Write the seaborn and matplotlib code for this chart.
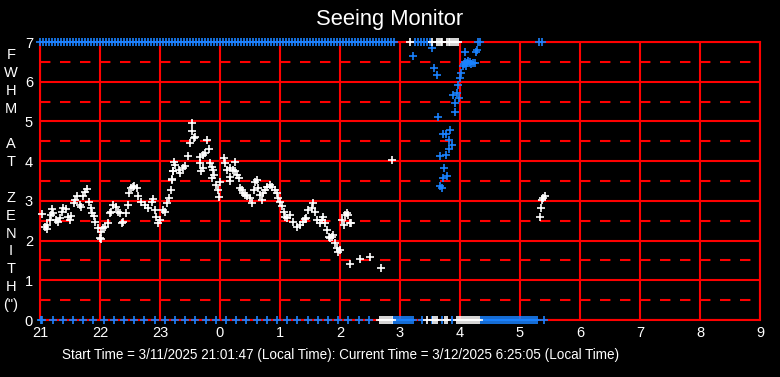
import numpy as np
import pandas as pd
import matplotlib
matplotlib.use("Agg")
import matplotlib.pyplot as plt
import seaborn as sns

# hours are continuous from 21:00 on the start day (24.5 = 00:30 next day)
tick_hours = list(range(21, 34))
tick_labels = ["21", "22", "23", "0", "1", "2", "3", "4", "5", "6", "7", "8", "9"]

# white series: FWHM readings
white_time = [
    21.03, 21.09, 21.12, 21.11, 21.16, 21.18, 21.20, 21.22, 21.27, 21.30, 21.33,
    21.36, 21.38, 21.44, 21.47, 21.50, 21.52, 21.57, 21.59, 21.62, 21.66, 21.69,
    21.72, 21.75, 21.79, 21.81, 21.85, 21.87, 21.90, 21.92, 21.96, 22.00, 22.01,
    22.02, 22.05, 22.08, 22.13, 22.16, 22.18, 22.22, 22.27, 22.30, 22.33, 22.36,
    22.38, 22.44, 22.46, 22.48, 22.52, 22.55, 22.57, 22.61, 22.63, 22.69, 22.75,
    22.80, 22.86, 22.88, 22.91, 22.94, 22.97, 23.00, 23.05, 23.08, 23.11, 23.15,
    23.18, 23.20, 23.22, 23.23, 23.25, 23.21, 23.20, 23.31, 23.33, 23.39, 23.42,
    23.46, 23.50, 23.53, 23.54, 23.58, 23.56, 23.66, 23.72, 23.75, 23.78, 23.81,
    23.67, 23.69, 23.72, 23.83, 23.86, 23.89, 23.90, 23.86, 24.00, 23.94, 23.97,
    23.99, 24.06, 24.08, 24.25, 24.11, 24.17, 24.22, 24.25, 24.28, 24.31, 24.17,
    24.16, 24.33, 24.36, 24.39, 24.42, 24.45, 24.50, 24.53, 24.56, 24.58, 24.61,
    24.64, 24.67, 24.70, 24.72, 24.75, 24.78, 24.83, 24.86, 24.92, 24.95, 24.97,
    25.00, 25.03, 25.06, 25.08, 25.11, 25.17, 25.22, 25.28, 25.33, 25.39, 25.42,
    25.44, 25.47, 25.53, 25.55, 25.58, 25.61, 25.66, 25.70, 25.71, 25.75, 25.78,
    25.81, 25.83, 25.86, 25.89, 25.92, 25.95, 25.97, 26.00, 26.03, 26.06, 26.08,
    26.11, 26.14, 26.17, 26.19, 26.17, 26.33, 26.50, 26.69, 26.86,
    29.33, 29.35, 29.36, 29.39, 29.42,
]
white_fwhm = [
    2.67, 2.35, 2.39, 2.28, 2.52, 2.64, 2.79, 2.69, 2.52, 2.48, 2.56,
    2.73, 2.81, 2.79, 2.60, 2.52, 2.62, 2.95, 3.02, 3.11, 2.90, 2.85,
    3.12, 3.23, 3.31, 2.98, 2.81, 2.70, 2.62, 2.48, 2.31, 2.06, 2.04,
    2.22, 2.31, 2.35, 2.44, 2.69, 2.73, 2.90, 2.85, 2.73, 2.69, 2.44,
    2.48, 2.69, 2.90, 3.19, 3.32, 3.36, 3.38, 3.32, 3.11, 2.98, 2.90,
    2.81, 2.98, 3.04, 2.77, 2.60, 2.44, 2.52, 2.77, 2.73, 2.94, 3.06,
    3.27, 3.53, 3.74, 3.99, 3.90, 3.74, 3.55, 3.78, 3.70, 3.82, 3.88,
    4.13, 4.45, 4.95, 4.77, 4.62, 4.58, 4.11, 4.16, 4.20, 4.53, 4.30,
    3.95, 3.74, 3.82, 3.95, 3.85, 3.78, 3.65, 3.57, 3.48, 3.40, 3.27,
    3.09, 4.07, 3.95, 3.99, 3.78, 3.82, 3.78, 3.74, 3.65, 3.57, 3.61,
    3.51, 3.32, 3.27, 3.19, 3.15, 3.11, 3.07, 2.94, 3.27, 3.48, 3.53,
    3.32, 3.15, 3.02, 3.19, 3.27, 3.36, 3.40, 3.36, 3.27, 3.19, 3.07,
    2.98, 2.86, 2.73, 2.60, 2.56, 2.64, 2.48, 2.35, 2.39, 2.48, 2.54,
    2.56, 2.77, 2.81, 2.95, 2.73, 2.52, 2.44, 2.52, 2.60, 2.44, 2.27,
    2.10, 2.06, 2.10, 2.14, 1.93, 1.81, 1.72, 1.76, 2.52, 2.39, 2.64,
    2.69, 2.64, 2.45, 2.44, 1.40, 1.53, 1.58, 1.30, 4.03,
    2.60, 2.81, 3.02, 3.06, 3.12,
]
# white readings pinned at the top (7) and bottom (0) of the scale
white_top_time = [27.17, 27.53, 27.62, 27.65, 27.68, 27.70, 27.78, 27.81, 27.84,
                  27.87, 27.90, 27.93, 27.97]
white_bottom_time = [26.67, 26.70, 26.73, 26.77, 26.80, 26.83, 26.87, 27.45, 27.55,
                     27.58, 27.62, 27.75, 27.78, 27.95, 27.98, 28.02, 28.05, 28.08,
                     28.12, 28.15, 28.18, 28.22, 28.25, 28.28, 28.32]

# blue series
blue_time = [
    27.22, 27.53, 27.56, 27.62, 27.64, 27.67, 27.76, 27.72, 27.77, 27.83, 27.82,
    27.86, 27.81, 27.74, 27.72, 27.79, 27.67, 27.70, 27.91, 27.92, 27.89, 27.95,
    27.99, 27.96, 28.00, 28.02, 28.06, 28.08, 28.11, 28.14, 28.17, 28.19, 28.22,
    28.25, 28.05, 28.10, 28.09, 28.27, 28.28,
]
blue_fwhm = [
    6.65, 6.84, 6.34, 6.17, 5.11, 4.13, 4.15, 4.69, 4.69, 4.79, 4.53,
    4.41, 4.31, 3.82, 3.57, 3.63, 3.38, 3.32, 5.23, 5.46, 5.67, 5.71,
    5.58, 5.92, 6.09, 6.23, 6.45, 6.50, 6.47, 6.52, 6.49, 6.45, 6.48,
    6.46, 6.40, 6.40, 6.74, 6.74, 6.80,
]
blue_top_time = [
    21.00, 21.05, 21.10, 21.15, 21.20, 21.25, 21.30, 21.35, 21.40, 21.45,
    21.50, 21.55, 21.60, 21.65, 21.70, 21.75, 21.80, 21.85, 21.90, 21.95,
    22.00, 22.05, 22.10, 22.15, 22.20, 22.25, 22.30, 22.35, 22.40, 22.45,
    22.50, 22.55, 22.60, 22.65, 22.70, 22.75, 22.80, 22.85, 22.90, 22.95,
    23.00, 23.05, 23.10, 23.15, 23.20, 23.25, 23.30, 23.35, 23.40, 23.45,
    23.50, 23.55, 23.60, 23.65, 23.70, 23.75, 23.80, 23.85, 23.90, 23.95,
    24.00, 24.05, 24.10, 24.15, 24.20, 24.25, 24.30, 24.35, 24.40, 24.45,
    24.50, 24.55, 24.60, 24.65, 24.70, 24.75, 24.80, 24.85, 24.90, 24.95,
    25.00, 25.05, 25.10, 25.15, 25.20, 25.25, 25.30, 25.35, 25.40, 25.45,
    25.50, 25.55, 25.60, 25.65, 25.70, 25.75, 25.80, 25.85, 25.90, 25.95,
    26.00, 26.05, 26.10, 26.15, 26.20, 26.25, 26.30, 26.35, 26.40, 26.45,
    26.50, 26.55, 26.60, 26.65, 26.70, 26.75, 26.80, 26.85, 26.90,
    27.25, 27.30, 27.35, 27.40, 27.45, 27.50, 28.30, 28.33, 29.32, 29.36,
]
blue_bottom_time = [
    21.01, 21.04, 21.21, 21.38, 21.55, 21.72, 21.89, 22.06, 22.23, 22.40, 22.57,
    22.74, 22.91, 23.08, 23.25, 23.42, 23.59, 23.76, 23.93, 24.10, 24.27, 24.44,
    24.61, 24.78, 24.95, 25.12, 25.29, 25.46, 25.63, 25.80, 25.97, 26.14, 26.31,
    26.48, 26.88, 26.92, 26.95, 26.98, 27.02, 27.05, 27.08, 27.12, 27.15, 27.18,
    27.22, 27.37, 27.53, 27.70, 27.87, 28.35, 28.38, 28.42, 28.45, 28.48, 28.52,
    28.55, 28.58, 28.62, 28.65, 28.68, 28.72, 28.75, 28.78, 28.82, 28.85, 28.88,
    28.92, 28.95, 28.98, 29.02, 29.05, 29.08, 29.12, 29.15, 29.18, 29.22, 29.25,
    29.28, 29.40,
]

def frame(t, v, ch):
    return pd.DataFrame({"time": t, "fwhm": v, "channel": ch})

blue_df = pd.concat([
    frame(blue_time, blue_fwhm, "blue"),
    frame(blue_top_time, [7.0] * len(blue_top_time), "blue"),
    frame(blue_bottom_time, [0.0] * len(blue_bottom_time), "blue"),
])
white_df = pd.concat([
    frame(white_time, white_fwhm, "white"),
    frame(white_top_time, [7.0] * len(white_top_time), "white"),
    frame(white_bottom_time, [0.0] * len(white_bottom_time), "white"),
])

sns.set_style("dark")
plt.rcParams["lines.scale_dashes"] = False
plt.rcParams["font.family"] = ["Liberation Sans", "DejaVu Sans"]

fig = plt.figure(figsize=(7.8, 3.77), dpi=100, facecolor="black")
ax = fig.add_axes([40 / 780, 57 / 377, 720 / 780, 278 / 377])
ax.set_facecolor("black")

sns.scatterplot(data=blue_df, x="time", y="fwhm", color="#1a82ff", marker="+",
                s=30, linewidth=1.2, clip_on=False, zorder=3, ax=ax, legend=False)
sns.scatterplot(data=white_df, x="time", y="fwhm", color="white", marker="+",
                s=30, linewidth=1.2, clip_on=False, zorder=4, ax=ax, legend=False)

ax.set_xlim(21, 33)
ax.set_ylim(0, 7)
ax.set_xticks(tick_hours)
ax.set_xticklabels(tick_labels)
ax.set_yticks(range(0, 8))
ax.set_yticks(np.arange(0.5, 7, 1.0), minor=True)
ax.set_axisbelow(True)
ax.grid(which="major", color="red", linewidth=1.5, linestyle="-")
ax.grid(which="minor", axis="y", color="red", linewidth=1.5, linestyle=(0, (7.5, 6.9)))
ax.grid(which="minor", axis="x", visible=False)
for sp in ax.spines.values():
    sp.set_color("red")
    sp.set_linewidth(1.5)
ax.tick_params(which="both", length=0, colors="white", labelsize=10.5)
ax.tick_params(axis="x", pad=4)
ax.tick_params(axis="y", pad=5)
ax.set_xlabel("")
ax.set_ylabel("")

fig.text(0.5, 1 - 20 / 377, "Seeing Monitor", color="white", fontsize=15.8,
         ha="center", va="center")
fig.text(11 / 780, 1 - 180 / 377, "F\nW\nH\nM\n\nA\nT\n\nZ\nE\nN\nI\nT\nH\n(\")",
         color="white", fontsize=10.5, ha="center", va="center",
         multialignment="center", linespacing=1.35)
fig.text(62 / 780, 1 - 355 / 377,
         "Start Time = 3/11/2025 21:01:47 (Local Time): Current Time = 3/12/2025 6:25:05 (Local Time)",
         color="white", fontsize=9.75, ha="left", va="center")

fig.savefig("out.png", dpi=100, facecolor="black")
